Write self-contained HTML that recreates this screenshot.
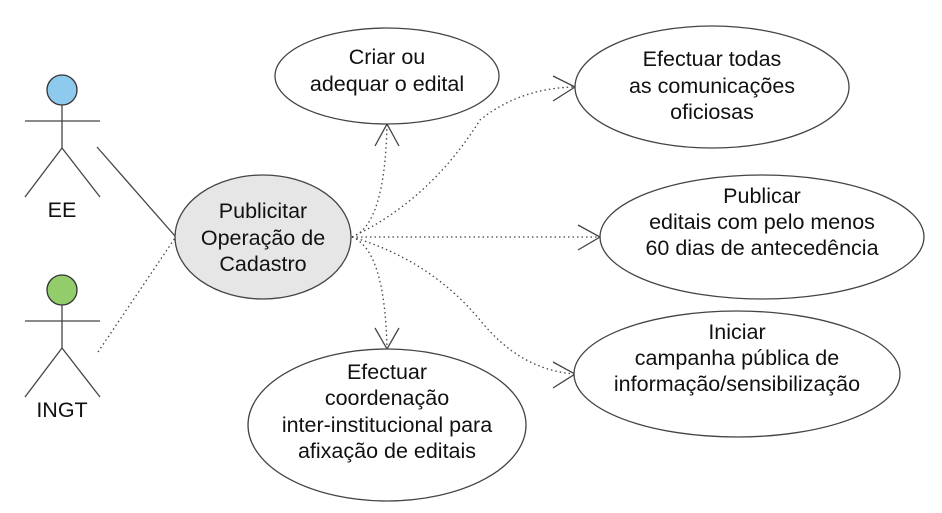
<!DOCTYPE html>
<html><head><meta charset="utf-8"><style>
html,body{margin:0;padding:0;background:#fff;}
svg{display:block;}
text{font-family:"Liberation Sans",sans-serif;font-size:21.5px;fill:#111;text-anchor:middle;}
</style></head><body>
<svg width="942" height="513" viewBox="0 0 942 513" xmlns="http://www.w3.org/2000/svg">
<g stroke="#444" stroke-width="1.3" fill="none">
<circle cx="62" cy="90" r="15" fill="#8ec9ee" stroke="#333"/>
<line x1="62" y1="105" x2="62" y2="148"/>
<line x1="25" y1="121" x2="100" y2="121"/>
<line x1="62" y1="148" x2="25" y2="197"/>
<line x1="62" y1="148" x2="100" y2="197"/>
<circle cx="62" cy="290" r="15" fill="#93cc6a" stroke="#333"/>
<line x1="62" y1="305" x2="62" y2="348"/>
<line x1="25" y1="321" x2="100" y2="321"/>
<line x1="62" y1="348" x2="25" y2="397"/>
<line x1="62" y1="348" x2="100" y2="397"/>
<line x1="97" y1="147" x2="175" y2="236"/>
<line x1="98" y1="352" x2="175" y2="238" stroke-dasharray="1.5,3"/>
<g stroke-dasharray="1.5,3">
<path d="M352 237 Q385 225 387 124"/>
<path d="M352 237 Q385 250 387 349"/>
<path d="M352 237 Q430 200 480 120 Q520 88 575 87"/>
<path d="M352 237 L600 237"/>
<path d="M352 237 Q430 260 480 320 Q520 370 575 374"/>
</g>
<polyline points="375,146 387,124 399,146"/>
<polyline points="375,328 387,349 399,328"/>
<polyline points="553,76 575,87 553,101"/>
<polyline points="578,225 600,237 578,250"/>
<polyline points="553,362 575,374 553,388"/>
<ellipse cx="263" cy="237" rx="88" ry="62" fill="#e6e6e6"/>
<ellipse cx="387" cy="76" rx="112" ry="48" fill="#fff"/>
<ellipse cx="712" cy="87" rx="137" ry="61" fill="#fff"/>
<ellipse cx="762" cy="237" rx="162" ry="62" fill="#fff"/>
<ellipse cx="737" cy="374" rx="163" ry="63" fill="#fff"/>
<ellipse cx="387" cy="425" rx="139" ry="76" fill="#fff"/>
</g>
<text x="62" y="217">EE</text>
<text x="62" y="417">INGT</text>
<text x="263" y="218">Publicitar</text>
<text x="263" y="245">Operação de</text>
<text x="263" y="271">Cadastro</text>
<text x="387" y="64">Criar ou</text>
<text x="387" y="91">adequar o edital</text>
<text x="712" y="66">Efectuar todas</text>
<text x="712" y="93">as comunicações</text>
<text x="712" y="119">oficiosas</text>
<text x="762" y="203">Publicar</text>
<text x="762" y="229">editais com pelo menos</text>
<text x="762" y="255">60 dias de antecedência</text>
<text x="737" y="339">Iniciar</text>
<text x="737" y="365">campanha pública de</text>
<text x="737" y="391">informação/sensibilização</text>
<text x="387" y="379">Efectuar</text>
<text x="387" y="405">coordenação</text>
<text x="387" y="432">inter-institucional para</text>
<text x="387" y="458">afixação de editais</text>
</svg>
</body></html>
